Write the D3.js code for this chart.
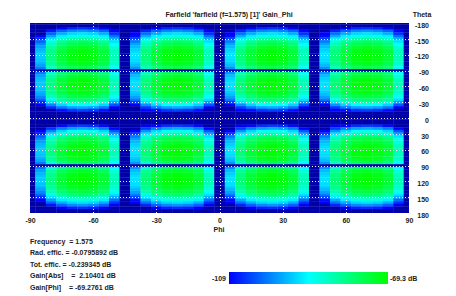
<!DOCTYPE html>
<html><head><meta charset="utf-8">
<script src="https://cdn.jsdelivr.net/npm/d3@7"></script>
<style>body{margin:0;background:#fff}text{font-family:"Liberation Sans",Arial,sans-serif;font-weight:bold;font-size:7px;fill:#222}</style>
</head><body><svg id="c" width="456" height="296"></svg>
<script>
const title = "Farfield 'farfield (f=1.575) [1]' Gain_Phi";
const phiSamples = [-90,-85,-80,-75,-70,-65,-60,-55,-50,-45,-40,-35,-30,-25,-20,-15,-10,-5,0,5,10,15,20,25,30,35,40,45,50,55,60,65,70,75,80,85,90];
// relative phi cut (dB)
const phiCut = [-45,-24,-10,-4,-1,0,-1,-4,-14,-45,-22,-9,-4,-1,0,-1,-4,-14,-45,-22,-9,-4,-1,0,-1,-4,-14,-45,-22,-9,-4,-1,0,-1,-4,-14,-45];
const thetaSamples = [-180,-175,-170,-165,-160,-155,-150,-145,-140,-135,-130,-125,-120,-115,-110,-105,-100,-95,-90,-85,-80,-75,-70,-65,-60,-55,-50,-45,-40,-35,-30,-25,-20,-15,-10,-5,0,5,10,15,20,25,30,35,40,45,50,55,60,65,70,75,80,85,90,95,100,105,110,115,120,125,130,135,140,145,150,155,160,165,170,175,180];
// relative theta cut (dB)
const thetaCut = [-45,-45,-36,-28,-22,-17,-12,-8,-5,-3,-1.5,-0.5,0,0,-0.5,-1.5,-3,-6,-70,-6,-3,-1.5,-0.5,0,0,-0.5,-1.5,-3,-5,-8,-13,-19,-26,-35,-45,-45,-45,-45,-45,-35,-26,-19,-13,-8,-5,-3,-1.5,-0.5,0,0,-0.5,-1.5,-3,-6,-70,-6,-3,-1.5,-0.5,0,0,-0.5,-1.5,-3,-5,-8,-12,-17,-22,-28,-36,-45,-45];
const peakGain = -69.3;
const colorMin = -109, colorMax = -69.3;
const xTicks = [-90,-60,-30,0,30,60,90];
const yTicks = [-180,-150,-120,-90,-60,-30,0,30,60,90,120,150,180];
const infoLines = ["Frequency  = 1.575","Rad. effic. = -0.0795892 dB","Tot. effic. = -0.239345 dB","Gain[Abs]    =  2.10401 dB","Gain[Phi]    = -69.2761 dB"];

const svg = d3.select("#c");
const x = d3.scaleLinear().domain([-90,90]).range([30,409]);
const y = d3.scaleLinear().domain([-180,180]).range([23,213]);
const cScale = d3.scaleLinear().domain([colorMin,(colorMin+colorMax)/2,colorMax]).range(["#0000ff","#00ffff","#00ff00"]).clamp(true);
function col(v){ return v < colorMin-5 ? "#0000a8" : cScale(v); }

svg.append("clipPath").attr("id","pc").append("rect").attr("x",30).attr("y",23).attr("width",379).attr("height",190);
const g = svg.append("g").attr("clip-path","url(#pc)");
const cells = [];
phiSamples.forEach((p,i)=>thetaSamples.forEach((t,j)=>cells.push({p,t,v:peakGain+phiCut[i]+thetaCut[j]})));
g.selectAll("rect.cell").data(cells).join("rect")
 .attr("x",d=>x(d.p-2.5)).attr("y",d=>y(d.t-2.5))
 .attr("width",x(2.5)-x(-2.5)+0.3).attr("height",y(2.5)-y(-2.5)+0.3)
 .attr("fill",d=>col(d.v));
// grid
g.selectAll("line.gx").data(xTicks.slice(1,-1)).join("line")
 .attr("x1",d=>Math.round(x(d))+0.5).attr("x2",d=>Math.round(x(d))+0.5).attr("y1",23).attr("y2",213)
 .attr("stroke","#f0f0ff").attr("stroke-width",1).attr("stroke-dasharray","1,2");
g.selectAll("line.gy").data(yTicks.slice(1,-1)).join("line")
 .attr("y1",d=>Math.round(y(d))+0.5).attr("y2",d=>Math.round(y(d))+0.5).attr("x1",30).attr("x2",409)
 .attr("stroke","#f0f0ff").attr("stroke-width",1).attr("stroke-dasharray","1,2");

// axes labels
const xa = svg.append("g").attr("transform","translate(0,223)").call(d3.axisBottom(x).tickValues(xTicks).tickSize(0).tickPadding(0).tickFormat(d=>String(d)));
xa.select(".domain").remove();
xa.selectAll("text").attr("dy","0").style("font-size","7px").attr("fill","#222");
const ya = svg.append("g").attr("transform","translate(429,2)").call(d3.axisLeft(y).tickValues(yTicks).tickSize(0).tickPadding(0).tickFormat(d=>String(d)));
ya.select(".domain").remove();
ya.selectAll("text").style("font-size","7px").attr("fill","#222");
svg.append("text").attr("x",229).attr("y",16.5).attr("text-anchor","middle").text(title);
svg.append("text").attr("x",422).attr("y",16.5).attr("text-anchor","middle").text("Theta");
svg.append("text").attr("x",219).attr("y",232).attr("text-anchor","middle").text("Phi");
svg.selectAll("text.info").data(infoLines).join("text").attr("class","info")
 .attr("x",30).attr("y",(d,i)=>243.5+i*11.6).style("white-space","pre").attr("xml:space","preserve").text(d=>d);

// colorbar
const grad = svg.append("defs").append("linearGradient").attr("id","cb");
grad.selectAll("stop").data([0,0.5,1]).join("stop").attr("offset",d=>d).attr("stop-color",d=>cScale(colorMin+d*(colorMax-colorMin)));
svg.append("rect").attr("x",229).attr("y",272).attr("width",159).attr("height",12).attr("fill","url(#cb)");
svg.append("text").attr("x",226).attr("y",280.5).attr("text-anchor","end").text(String(colorMin));
svg.append("text").attr("x",390).attr("y",280.5).text(colorMax+" dB");
</script></body></html>
